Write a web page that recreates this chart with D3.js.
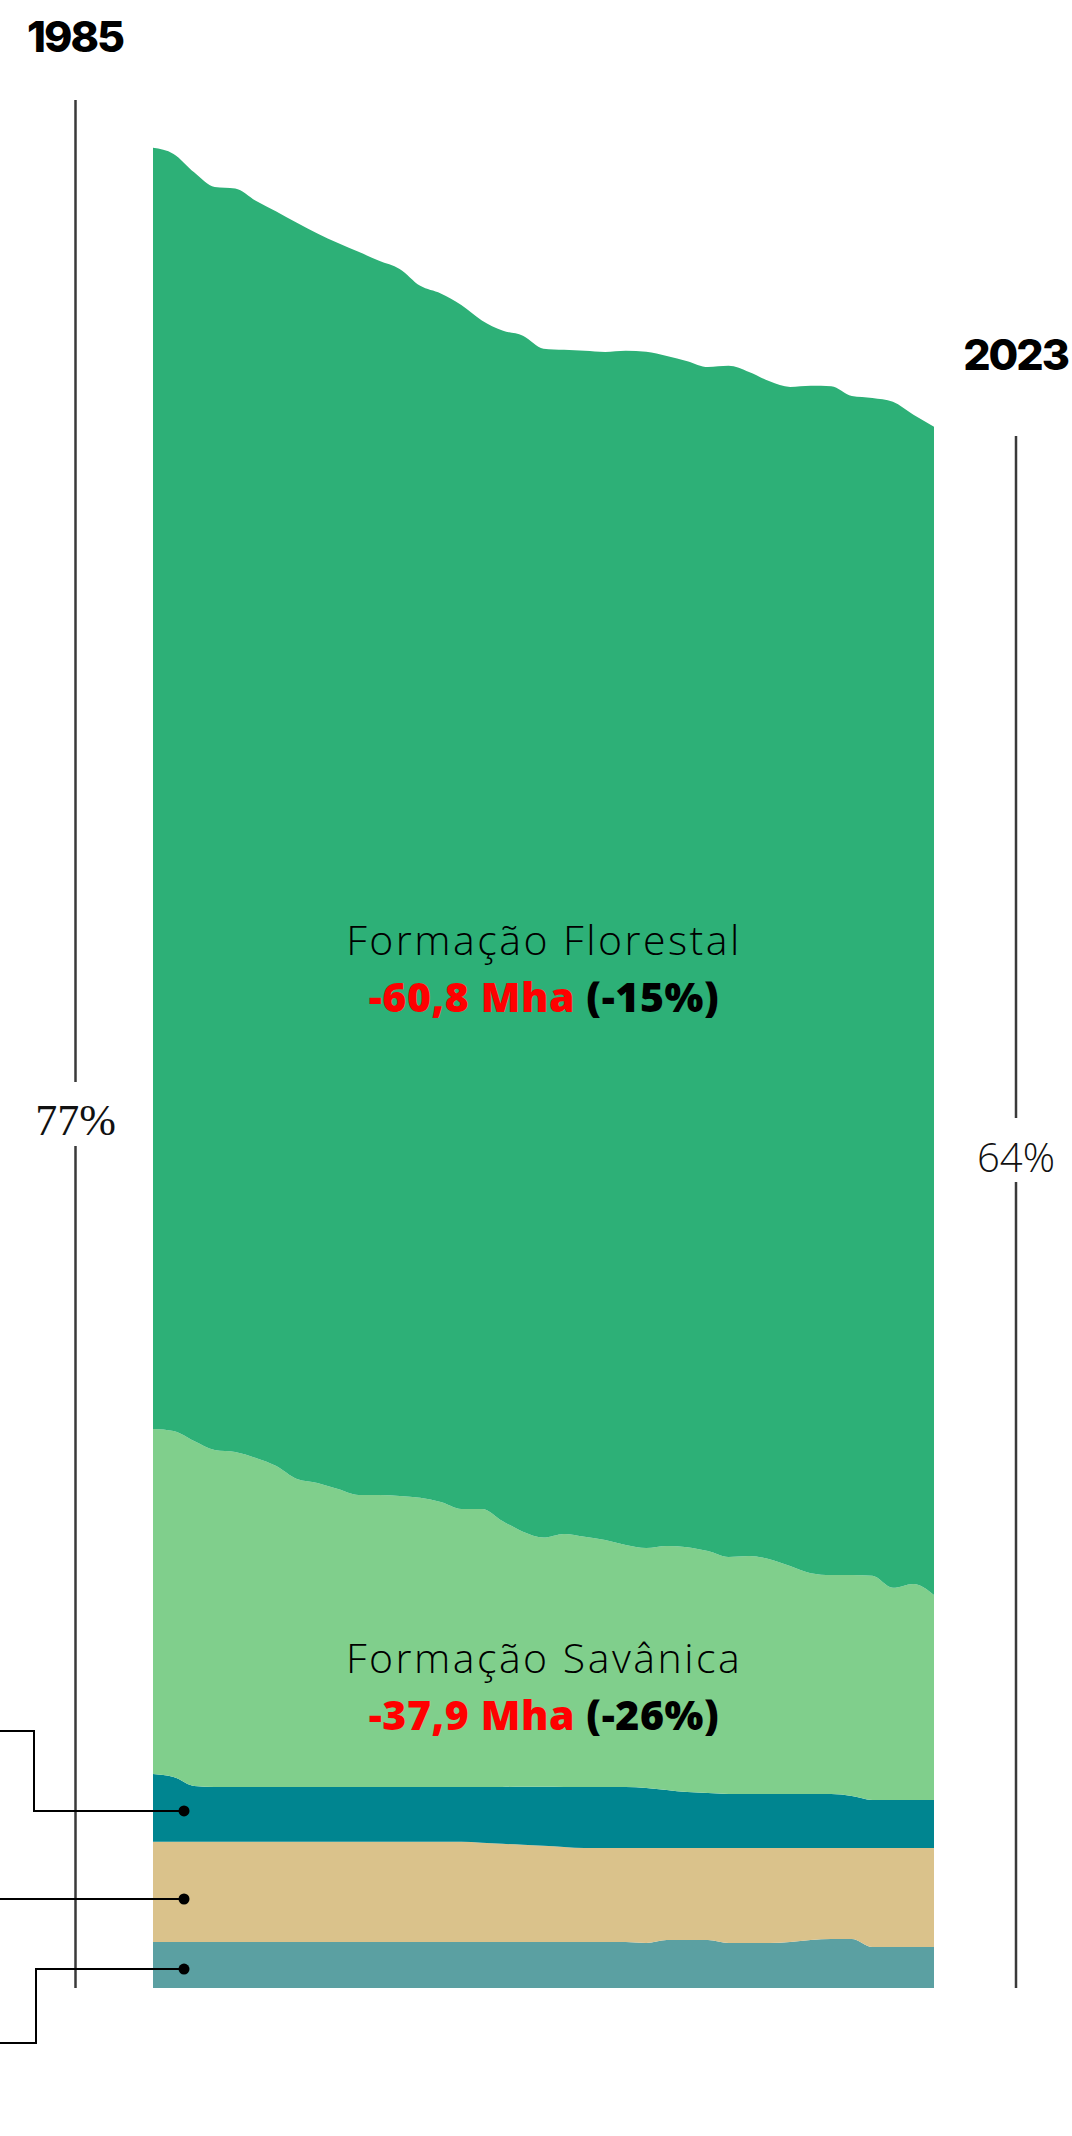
<!DOCTYPE html>
<html><head><meta charset="utf-8">
<script src="https://cdn.jsdelivr.net/npm/d3@7"></script>
<style>body{margin:0;background:#fff}svg{display:block}</style>
</head><body>
<script>
// ---- data (share of territory, %) ----
const years = d3.range(1985, 2024);
const bottomLayer = [1.88,1.88,1.88,1.88,1.88,1.88,1.88,1.88,1.88,1.88,1.88,1.88,1.88,1.88,1.88,1.88,1.88,1.88,1.88,1.88,1.88,1.88,1.88,1.88,1.84,1.96,1.96,1.96,1.84,1.84,1.84,1.88,1.96,2.00,2.00,1.67,1.67,1.67,1.67];
const tanLayer = [4.08,4.08,4.08,4.08,4.08,4.08,4.08,4.08,4.08,4.08,4.08,4.08,4.08,4.08,4.08,4.08,4.04,4.00,3.96,3.92,3.87,3.83,3.83,3.83,3.87,3.75,3.75,3.75,3.87,3.87,3.87,3.83,3.75,3.71,3.71,4.04,4.04,4.04,4.04];
const tealLayer = [2.77,2.65,2.28,2.24,2.24,2.24,2.24,2.24,2.24,2.24,2.24,2.24,2.24,2.24,2.24,2.24,2.28,2.32,2.37,2.41,2.45,2.49,2.49,2.49,2.45,2.37,2.28,2.24,2.20,2.20,2.20,2.20,2.20,2.20,2.12,1.96,1.96,1.96,1.96];
const savanna = [14.07,14.11,14.07,13.74,13.66,13.42,13.09,12.56,12.40,12.15,11.91,11.91,11.87,11.79,11.62,11.34,11.34,10.85,10.40,10.16,10.32,10.20,10.07,9.87,9.79,9.95,9.99,9.87,9.67,9.71,9.58,9.30,9.01,8.93,9.01,9.14,8.65,8.81,8.36];
const forest = [52.25,52.08,51.74,51.51,51.53,51.27,51.16,51.23,50.96,50.82,50.70,50.33,50.04,49.43,49.29,49.10,48.47,48.55,48.78,48.49,48.29,48.37,48.45,48.70,48.78,48.53,48.37,48.29,48.58,48.29,48.04,48.09,48.43,48.49,48.09,48.04,48.37,47.68,47.64];
const colors = ["#5ba0a2", "#dac28b", "#008590", "#80cf8c", "#2db077"];
const guideYears = [1985, 2023];
const guideValues = [77, 63.3];
const guideLabels = ["77%", "64%"];
const yearLabels = ["1985", "2023"];
const areaLabels = [
  {name: "Formação Florestal", change: "-60,8 Mha", pct: "(-15%)"},
  {name: "Formação Savânica", change: "-37,9 Mha", pct: "(-26%)"}
];
const calloutValues = [7.22, 3.63, 0.77];

// ---- layout ----
const W = 1072, H = 2136;
const svg = d3.select("body").append("svg").attr("width", W).attr("height", H);
const x = d3.scaleLinear().domain([1985, 2023]).range([153, 934]);
const y = d3.scaleLinear().domain([0, 77]).range([1988, 100]);

const table = years.map((yr, i) => ({
  year: yr, s0: bottomLayer[i], s1: tanLayer[i], s2: tealLayer[i], s3: savanna[i], s4: forest[i]
}));
const layers = d3.stack().keys(["s0","s1","s2","s3","s4"])(table);
const area = d3.area()
  .x(d => x(d.data.year))
  .y0(d => y(d[0]))
  .y1(d => y(d[1]))
  .curve(d3.curveMonotoneX);

svg.append("g").selectAll("path").data(layers).join("path")
  .attr("d", area)
  .attr("fill", (d, i) => colors[i]);

// guide lines with % labels
const gx = [75.5, 1016];
const gapTop = [1082, 1118];
const gapBot = [1146, 1182];
const labelBase = [1135, 1172];
guideYears.forEach((yr, i) => {
  const top = y(guideValues[i]), bot = y(0);
  svg.append("line").attr("x1", gx[i]).attr("x2", gx[i]).attr("y1", top).attr("y2", gapTop[i])
    .attr("stroke", "#3a3a3a").attr("stroke-width", 2.5);
  svg.append("line").attr("x1", gx[i]).attr("x2", gx[i]).attr("y1", gapBot[i]).attr("y2", bot)
    .attr("stroke", "#3a3a3a").attr("stroke-width", 2.5);
  svg.append("text").attr("x", gx[i]).attr("y", labelBase[i])
    .attr("text-anchor", "middle")
    .attr("font-family", i === 0 ? "Liberation Serif, serif" : "Open Sans, sans-serif")
    .attr("font-weight", i === 0 ? 400 : 300)
    .attr("font-size", i === 0 ? 44 : 40)
    .attr("fill", "#111")
    .text(guideLabels[i]);
});

// year titles
[[27, 52, "start"], [1068, 370, "end"]].forEach((p, i) => {
  svg.append("text").attr("x", p[0]).attr("y", p[1]).attr("text-anchor", p[2])
    .attr("font-family", "Inter, sans-serif").attr("font-weight", 800).attr("font-size", 43)
    .attr("letter-spacing", -2).attr("fill", "#000").text(yearLabels[i]);
});

// area labels
const labelPos = [{cx: 544, y1: 955, y2: 1012}, {cx: 544, y1: 1673, y2: 1730}];
areaLabels.forEach((lab, i) => {
  const p = labelPos[i];
  svg.append("text").attr("x", p.cx).attr("y", p.y1).attr("text-anchor", "middle")
    .attr("font-family", "Open Sans, sans-serif").attr("font-weight", 300).attr("font-size", 41)
    .attr("letter-spacing", 2.5).attr("fill", "#000").text(lab.name);
  const t = svg.append("text").attr("x", p.cx).attr("y", p.y2).attr("text-anchor", "middle")
    .attr("font-family", "Open Sans, sans-serif").attr("font-weight", 800).attr("font-size", 41)
    .attr("letter-spacing", 0.6);
  t.append("tspan").attr("fill", "#ff0000").text(lab.change);
  t.append("tspan").attr("fill", "#000").text(" " + lab.pct);
});

// callouts for the three small layers
const dotX = 184;
const callouts = [
  {elbowX: 34, endY: 1731},
  {elbowX: null, endY: null},
  {elbowX: 36, endY: 2043}
];
callouts.forEach((c, i) => {
  const cy = y(calloutValues[i]);
  const pts = c.elbowX === null ? [[dotX, cy], [0, cy]]
    : [[dotX, cy], [c.elbowX, cy], [c.elbowX, c.endY], [0, c.endY]];
  svg.append("path").attr("d", d3.line()(pts)).attr("fill", "none")
    .attr("stroke", "#000").attr("stroke-width", 2);
  svg.append("circle").attr("cx", dotX).attr("cy", cy).attr("r", 5.5).attr("fill", "#000");
});
</script>
</body></html>
